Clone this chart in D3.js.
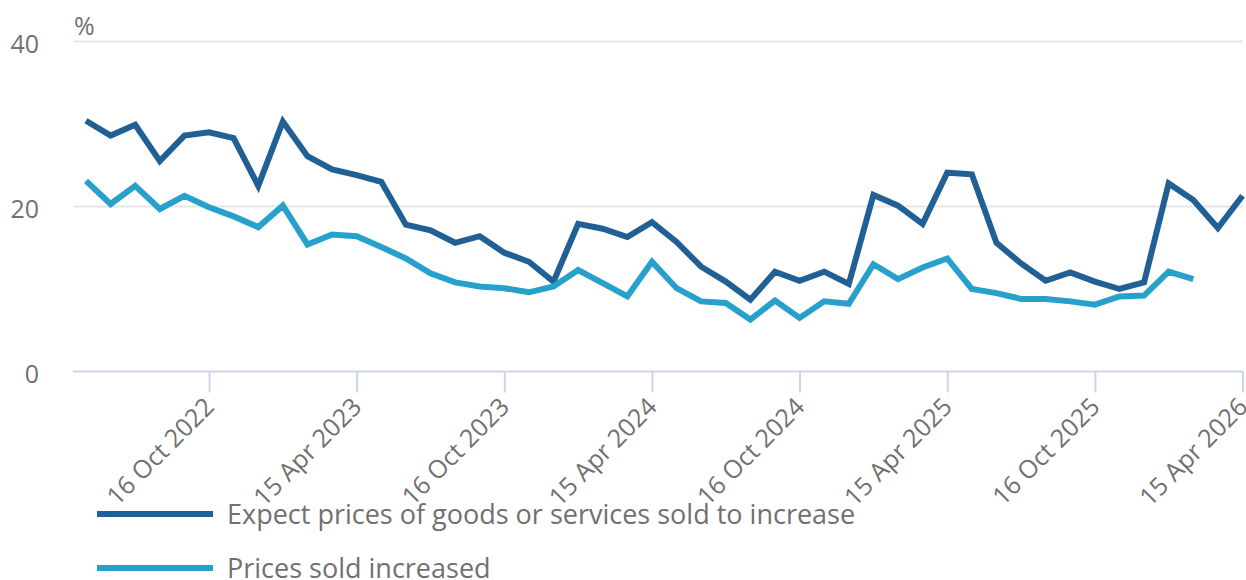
<!DOCTYPE html>
<html>
<head>
<meta charset="utf-8">
<script src="https://cdn.jsdelivr.net/npm/d3@7"></script>
<style>
  body { margin: 0; background: #fff; }
  svg text { font-family: "Open Sans", sans-serif; fill: #707070; }
</style>
</head>
<body>
<svg id="chart" width="1246" height="580"></svg>
<script>
// -----------------------------------------------------------------------------
// Data
// -----------------------------------------------------------------------------

var months = [
  "2022-05", "2022-06", "2022-07", "2022-08", "2022-09", "2022-10", "2022-11", "2022-12",
  "2023-01", "2023-02", "2023-03", "2023-04", "2023-05", "2023-06", "2023-07", "2023-08",
  "2023-09", "2023-10", "2023-11", "2023-12", "2024-01", "2024-02", "2024-03", "2024-04",
  "2024-05", "2024-06", "2024-07", "2024-08", "2024-09", "2024-10", "2024-11", "2024-12",
  "2025-01", "2025-02", "2025-03", "2025-04", "2025-05", "2025-06", "2025-07", "2025-08",
  "2025-09", "2025-10", "2025-11", "2025-12", "2026-01", "2026-02", "2026-03", "2026-04"
];

var expectIncrease = [
  30.4, 28.6, 29.9, 25.5, 28.6, 29.0, 28.3, 22.5, 30.3, 26.1, 24.5, 23.8,
  23.0, 17.8, 17.1, 15.6, 16.4, 14.4, 13.3, 10.9, 17.9, 17.3, 16.3, 18.1,
  15.7, 12.7, 10.9, 8.7, 12.1, 11.0, 12.1, 10.6, 21.4, 20.1, 17.9, 24.1,
  23.9, 15.6, 13.1, 11.0, 12.0, 10.9, 10.0, 10.8, 22.8, 20.8, 17.4, 21.3
];

var pricesIncreased = [
  23.1, 20.3, 22.5, 19.7, 21.3, 19.9, 18.8, 17.5, 20.1, 15.4, 16.6, 16.4,
  15.1, 13.7, 11.9, 10.8, 10.3, 10.1, 9.6, 10.3, 12.3, 10.7, 9.1, 13.3,
  10.1, 8.5, 8.3, 6.3, 8.6, 6.5, 8.5, 8.2, 13.0, 11.2, 12.6, 13.7,
  10.0, 9.5, 8.8, 8.8, 8.5, 8.1, 9.1, 9.2, 12.1, 11.2
];

var tickMonths = ["2022-10", "2023-04", "2023-10", "2024-04", "2024-10", "2025-04", "2025-10", "2026-04"];
var tickLabels = ["16 Oct 2022", "15 Apr 2023", "16 Oct 2023", "15 Apr 2024",
                  "16 Oct 2024", "15 Apr 2025", "16 Oct 2025", "15 Apr 2026"];

var yTicks = [0, 20, 40];

var seriesNames = ["Expect prices of goods or services sold to increase", "Prices sold increased"];
var seriesColors = ["#206095", "#27a0cc"];

// -----------------------------------------------------------------------------
// Layout
// -----------------------------------------------------------------------------

var plotLeft = 73, plotRight = 1243;
var svg = d3.select("#chart");

var xScale = d3.scalePoint()
    .domain(months)
    .range([86, 1242.5]);

var yScale = d3.scaleLinear()
    .domain([0, 40])
    .range([371.5, 41.5]);

// gridlines
svg.append("g")
    .selectAll("line")
    .data(yTicks.filter(function(d) { return d > 0; }))
    .enter().append("line")
    .attr("x1", plotLeft)
    .attr("x2", plotRight)
    .attr("y1", function(d) { return yScale(d); })
    .attr("y2", function(d) { return yScale(d); })
    .attr("stroke", "#e6e6e6")
    .attr("stroke-width", 2);

// y axis labels
var yAxis = svg.append("g")
    .attr("transform", "translate(39,0)")
    .call(d3.axisLeft(yScale).tickValues(yTicks).tickSize(0).tickPadding(0));
yAxis.select(".domain").remove();
yAxis.selectAll("text")
    .attr("dy", "0.45em")
    .style("font-size", "25px")
    .style("font-family", "'Open Sans', sans-serif")
    .attr("fill", "#707070");

svg.append("text")
    .attr("x", 74)
    .attr("y", 35)
    .style("font-size", "25px")
    .text("%");

// x axis
svg.append("line")
    .attr("x1", plotLeft)
    .attr("x2", plotRight)
    .attr("y1", yScale(0))
    .attr("y2", yScale(0))
    .attr("stroke", "#ccd6eb")
    .attr("stroke-width", 2);

var xAxis = svg.append("g")
    .attr("transform", "translate(0," + yScale(0) + ")")
    .call(d3.axisBottom(xScale)
        .tickValues(tickMonths)
        .tickSize(21)
        .tickFormat(function(d) { return tickLabels[tickMonths.indexOf(d)]; }));
xAxis.select(".domain").remove();
xAxis.selectAll(".tick line")
    .attr("stroke", "#ccd6eb")
    .attr("stroke-width", 2);
xAxis.selectAll(".tick text")
    .attr("fill", "#707070")
    .style("font-size", "25px")
    .style("font-family", "'Open Sans', sans-serif")
    .attr("text-anchor", "end")
    .attr("dy", null)
    .attr("y", 0)
    .attr("transform", "translate(6,37) rotate(-45)");

// lines
var line = d3.line()
    .x(function(d, i) { return xScale(months[i]); })
    .y(function(d) { return yScale(d); });

[expectIncrease, pricesIncreased].forEach(function(series, k) {
  svg.append("path")
      .datum(series)
      .attr("fill", "none")
      .attr("stroke", seriesColors[k])
      .attr("stroke-width", 6)
      .attr("stroke-linejoin", "miter")
      .attr("d", line);
});

// legend
var legend = svg.append("g");
seriesNames.forEach(function(name, k) {
  var ly = 514 + k * 54;
  legend.append("line")
      .attr("x1", 97)
      .attr("x2", 213)
      .attr("y1", ly)
      .attr("y2", ly)
      .attr("stroke", seriesColors[k])
      .attr("stroke-width", 6);
  legend.append("text")
      .attr("x", 227)
      .attr("y", ly + 10)
      .style("font-size", "27px")
      .text(name);
});
</script>
</body>
</html>
